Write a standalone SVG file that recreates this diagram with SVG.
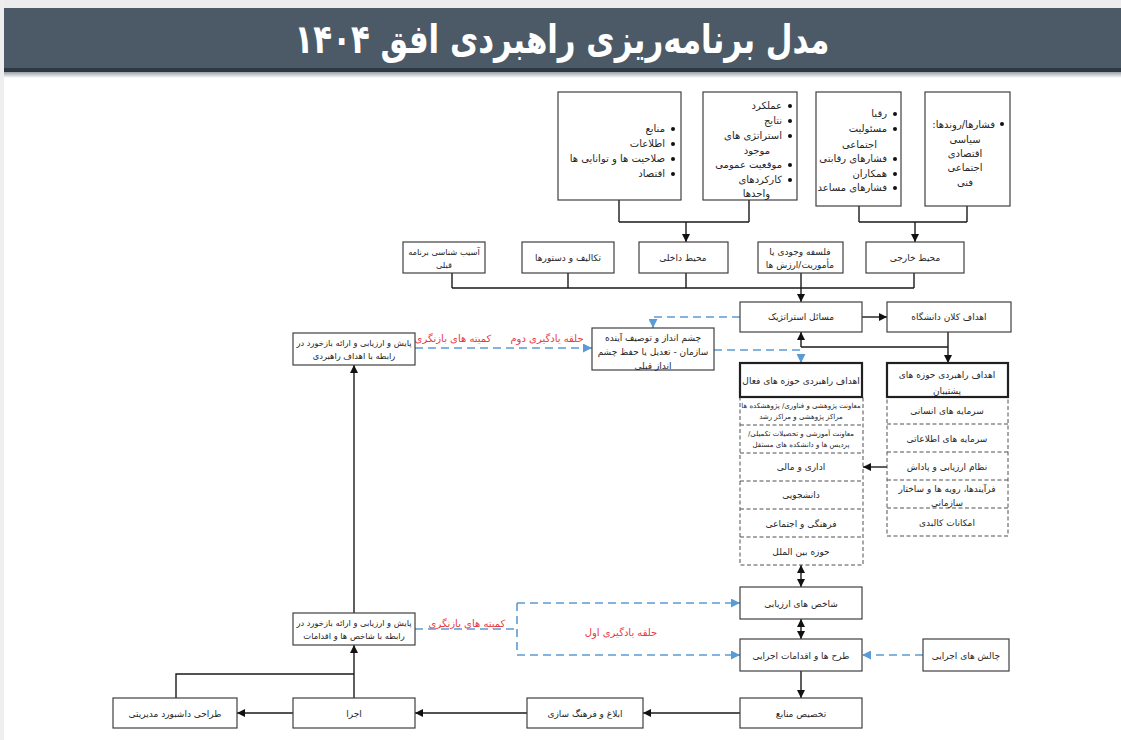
<svg xmlns="http://www.w3.org/2000/svg" width="1121" height="740" viewBox="0 0 1121 740">
  <defs>
    <style>
      .box { fill: #ffffff; stroke: #404040; stroke-width: 1.2; }
      .thick { fill: #ffffff; stroke: #202020; stroke-width: 2.2; }
      .dash { fill: none; stroke: #505050; stroke-width: 1; stroke-dasharray: 4 2.5; }
      .ln { fill: none; stroke: #1a1a1a; stroke-width: 1.4; }
      .blue { fill: none; stroke: #5b9bd5; stroke-width: 1.6; stroke-dasharray: 8 5; }
      text { font-family: "DejaVu Sans", "Noto Sans", sans-serif; font-size: 9px; fill: #262626; direction: rtl; }
      .c { text-anchor: middle; }
      .r { text-anchor: start; }
      .lst { font-size: 10px; }
      .sm { font-size: 7px; }
      .xs { font-size: 8.3px; }
      .red { fill: #e8383d; font-size: 10px; }
      .title { font-size: 40px; font-weight: bold; fill: #ffffff; }
    </style>
    <marker id="ah" viewBox="0 0 10 10" refX="10" refY="5" markerWidth="8" markerHeight="8" markerUnits="userSpaceOnUse" orient="auto-start-reverse">
      <path d="M0,0 L10,5 L0,10 z" fill="#111111"/>
    </marker>
    <marker id="ahb" viewBox="0 0 10 10" refX="10" refY="5" markerWidth="9" markerHeight="9" markerUnits="userSpaceOnUse" orient="auto">
      <path d="M0,0 L10,5 L0,10 z" fill="#5b9bd5"/>
    </marker>
    <linearGradient id="shade" x1="0" y1="0" x2="0" y2="1">
      <stop offset="0" stop-color="#9aa0a6"/>
      <stop offset="1" stop-color="#ffffff"/>
    </linearGradient>
  </defs>

  <!-- page -->
  <rect x="0" y="0" width="1121" height="740" fill="#ffffff"/>
  <rect x="0" y="0" width="1121" height="8" fill="#ececec"/>
  <rect x="0" y="0" width="4" height="740" fill="#eeeeee"/>

  <!-- header bar -->
  <g id="header">
    <rect x="4" y="8" width="1117" height="61" fill="#4c5a68"/>
    <rect x="4" y="68" width="1117" height="4" fill="#2e3842"/>
    <rect x="4" y="72" width="1117" height="6" fill="url(#shade)"/>
    <text class="title c" x="562" y="53" textLength="535" lengthAdjust="spacingAndGlyphs">مدل برنامه‌ریزی راهبردی افق ۱۴۰۴</text>
  </g>

  <!-- connectors -->
  <g id="connectors">
    <!-- internal environment inputs -->
    <path class="ln" d="M619,200 V222 M749,200 V222 M619,222 H749"/>
    <path class="ln" d="M686,222 V242" marker-end="url(#ah)"/>
    <!-- external environment inputs -->
    <path class="ln" d="M859,206 V222 M967,206 V222 M859,222 H967"/>
    <path class="ln" d="M915,222 V242" marker-end="url(#ah)"/>
    <!-- middle row into strategic issues -->
    <path class="ln" d="M452,273 V288 M568,273 V288 M686,273 V288 M914,273 V288 M452,288 H914"/>
    <path class="ln" d="M801,273 V302" marker-end="url(#ah)"/>
    <!-- strategic issues to university goals -->
    <path class="ln" d="M862,317 H887" marker-end="url(#ah)"/>
    <path class="ln" d="M948,332 V363" marker-end="url(#ah)"/>
    <path class="ln" d="M948,347 H801"/>
    <path class="ln" d="M801,347 V332" marker-end="url(#ah)"/>
    <!-- vision loop -->
    <path class="blue" d="M740,317 H653 V328" marker-end="url(#ahb)"/>
    <path class="blue" d="M714,350 H801 V363" marker-end="url(#ahb)"/>
    <path class="blue" d="M415,348 H592" marker-end="url(#ahb)"/>
    <!-- support to active -->
    <path class="ln" d="M887,467 H863" marker-end="url(#ah)"/>
    <!-- vertical chain -->
    <path class="ln" d="M801,565 V587" marker-start="url(#ah)" marker-end="url(#ah)"/>
    <path class="ln" d="M801,619 V639" marker-start="url(#ah)" marker-end="url(#ah)"/>
    <path class="ln" d="M801,671 V698" marker-end="url(#ah)"/>
    <path class="blue" d="M923,655 H862" marker-end="url(#ahb)"/>
    <!-- first learning loop -->
    <path class="blue" d="M415,629 H517 M517,603 V655"/>
    <path class="blue" d="M517,603 H740" marker-end="url(#ahb)"/>
    <path class="blue" d="M517,655 H740" marker-end="url(#ahb)"/>
    <!-- bottom row -->
    <path class="ln" d="M740,713 H643" marker-end="url(#ah)"/>
    <path class="ln" d="M527,713 H415" marker-end="url(#ah)"/>
    <path class="ln" d="M293,713 H237" marker-end="url(#ah)"/>
    <path class="ln" d="M176,698 V674 H354"/>
    <path class="ln" d="M354,698 V645" marker-end="url(#ah)"/>
    <path class="ln" d="M354,613 V365" marker-end="url(#ah)"/>
    <!-- loop labels -->
    <text class="red c" x="453" y="342">کمیته های بازنگری</text>
    <text class="red c" x="547" y="342">حلقه یادگیری دوم</text>
    <text class="red c" x="467" y="627">کمیته های بازنگری</text>
    <text class="red c" x="621" y="636">حلقه یادگیری اول</text>
  </g>

  <!-- top input boxes -->
  <g id="resources">
    <rect class="box" x="558" y="92" width="123" height="108"/>
    <g fill="#111"><circle cx="673" cy="129" r="2"/><circle cx="673" cy="144" r="2"/><circle cx="673" cy="159" r="2"/><circle cx="673" cy="174" r="2"/></g>
    <text class="r lst" x="665" y="132">منابع</text>
    <text class="r lst" x="665" y="147">اطلاعات</text>
    <text class="r lst" x="665" y="162">صلاحیت ها و توانایی ها</text>
    <text class="r lst" x="665" y="177">اقتصاد</text>
  </g>
  <g id="performance">
    <rect class="box" x="703" y="92" width="94" height="108"/>
    <g fill="#111"><circle cx="790" cy="106" r="2"/><circle cx="790" cy="121" r="2"/><circle cx="790" cy="136" r="2"/><circle cx="790" cy="165" r="2"/><circle cx="790" cy="180" r="2"/></g>
    <text class="r lst" x="782" y="109">عملکرد</text>
    <text class="r lst" x="782" y="124">نتایج</text>
    <text class="r lst" x="782" y="139">استراتژی های</text>
    <text class="r lst" x="770" y="154">موجود</text>
    <text class="r lst" x="782" y="168">موقعیت عمومی</text>
    <text class="r lst" x="782" y="183">کارکردهای</text>
    <text class="r lst" x="770" y="197">واحدها</text>
  </g>
  <g id="competitors">
    <rect class="box" x="816" y="92" width="85" height="114"/>
    <g fill="#111"><circle cx="895" cy="114" r="2"/><circle cx="895" cy="129" r="2"/><circle cx="895" cy="159" r="2"/><circle cx="895" cy="174" r="2"/><circle cx="895" cy="188" r="2"/></g>
    <text class="r lst" x="887" y="117">رقبا</text>
    <text class="r lst" x="887" y="132">مسئولیت</text>
    <text class="r lst" x="877" y="148">اجتماعی</text>
    <text class="r lst" x="887" y="162">فشارهای رقابتی</text>
    <text class="r lst" x="887" y="177">همکاران</text>
    <text class="r lst" x="887" y="191">فشارهای مساعد</text>
  </g>
  <g id="trends">
    <rect class="box" x="925" y="92" width="85" height="114"/>
    <circle cx="1002" cy="124" r="2" fill="#111"/>
    <text class="r lst" x="995" y="128">فشارها/روندها:</text>
    <text class="c lst" x="965" y="143">سیاسی</text>
    <text class="c lst" x="965" y="157">اقتصادی</text>
    <text class="c lst" x="965" y="171">اجتماعی</text>
    <text class="c lst" x="965" y="186">فنی</text>
  </g>

  <!-- middle row -->
  <g id="pathology">
    <rect class="box" x="403" y="242" width="82" height="31"/>
    <text class="c xs" x="444" y="255">آسیب شناسی برنامه</text>
    <text class="c xs" x="444" y="268">قبلی</text>
  </g>
  <g id="mandates">
    <rect class="box" x="522" y="242" width="92" height="31"/>
    <text class="c" x="568" y="261">تکالیف و دستورها</text>
  </g>
  <g id="internal-env">
    <rect class="box" x="639" y="242" width="89" height="31"/>
    <text class="c" x="683" y="261">محیط داخلی</text>
  </g>
  <g id="mission">
    <rect class="box" x="758" y="242" width="85" height="31"/>
    <text class="c" x="800" y="255">فلسفه وجودی یا</text>
    <text class="c" x="800" y="268">مأموریت/ارزش ها</text>
  </g>
  <g id="external-env">
    <rect class="box" x="866" y="242" width="98" height="31"/>
    <text class="c" x="915" y="261">محیط خارجی</text>
  </g>

  <!-- strategy level -->
  <g id="strategic-issues">
    <rect class="box" x="740" y="302" width="122" height="30"/>
    <text class="c" x="801" y="320">مسائل استراتژیک</text>
  </g>
  <g id="university-goals">
    <rect class="box" x="887" y="302" width="124" height="30"/>
    <text class="c" x="949" y="320">اهداف کلان دانشگاه</text>
  </g>
  <g id="vision">
    <rect class="box" x="592" y="328" width="122" height="42"/>
    <text class="c" x="653" y="341">چشم انداز و توصیف آینده</text>
    <text class="c" x="653" y="355">سازمان - تعدیل یا حفظ چشم</text>
    <text class="c" x="653" y="369">انداز قبلی</text>
  </g>
  <g id="monitor-goals">
    <rect class="box" x="293" y="333" width="122" height="32"/>
    <text class="c xs" x="354" y="346">پایش و ارزیابی و ارائه بازخورد در</text>
    <text class="c xs" x="354" y="359">رابطه با اهداف راهبردی</text>
  </g>

  <!-- active areas column -->
  <g id="active-areas">
    <rect class="dash" x="740" y="397" width="123" height="168"/>
    <path class="dash" d="M740,425 H863 M740,453 H863 M740,481 H863 M740,509 H863 M740,537 H863"/>
    <rect class="thick" x="740" y="363" width="122" height="34"/>
    <text class="c" x="801" y="384">اهداف راهبردی حوزه های فعال</text>
    <text class="c sm" x="801" y="408">معاونت پژوهشی و فناوری/ پژوهشکده ها</text>
    <text class="c sm" x="801" y="419">مراکز پژوهشی و مراکز رشد</text>
    <text class="c sm" x="801" y="436">معاونت آموزشی و تحصیلات تکمیلی/</text>
    <text class="c sm" x="801" y="447">پردیس ها و دانشکده های مستقل</text>
    <text class="c" x="801" y="470">اداری و مالی</text>
    <text class="c" x="801" y="498">دانشجویی</text>
    <text class="c" x="801" y="527">فرهنگی و اجتماعی</text>
    <text class="c" x="801" y="555">حوزه بین الملل</text>
  </g>

  <!-- support areas column -->
  <g id="support-areas">
    <rect class="dash" x="887" y="397" width="121" height="139"/>
    <path class="dash" d="M887,424 H1008 M887,452 H1008 M887,480 H1008 M887,508 H1008"/>
    <rect class="thick" x="887" y="363" width="121" height="34"/>
    <text class="c" x="947" y="378">اهداف راهبردی حوزه های</text>
    <text class="c" x="947" y="394">پشتیبان</text>
    <text class="c" x="947" y="414">سرمایه های انسانی</text>
    <text class="c" x="947" y="442">سرمایه های اطلاعاتی</text>
    <text class="c" x="947" y="470">نظام ارزیابی و پاداش</text>
    <text class="c" x="947" y="492">فرآیندها، رویه ها و ساختار</text>
    <text class="c" x="947" y="506">سازمانی</text>
    <text class="c" x="947" y="526">امکانات کالبدی</text>
  </g>

  <!-- execution chain -->
  <g id="indicators">
    <rect class="box" x="740" y="587" width="122" height="32"/>
    <text class="c" x="801" y="607">شاخص های ارزیابی</text>
  </g>
  <g id="plans">
    <rect class="box" x="740" y="639" width="122" height="32"/>
    <text class="c" x="801" y="659">طرح ها و اقدامات اجرایی</text>
  </g>
  <g id="challenges">
    <rect class="box" x="923" y="639" width="86" height="32"/>
    <text class="c" x="966" y="659">چالش های اجرایی</text>
  </g>
  <g id="monitor-actions">
    <rect class="box" x="293" y="613" width="122" height="32"/>
    <text class="c xs" x="354" y="626">پایش و ارزیابی و ارائه بازخورد در</text>
    <text class="c xs" x="354" y="639">رابطه با شاخص ها و اقدامات</text>
  </g>
  <g id="allocation">
    <rect class="box" x="740" y="698" width="122" height="30"/>
    <text class="c" x="801" y="717">تخصیص منابع</text>
  </g>
  <g id="communication">
    <rect class="box" x="527" y="698" width="116" height="30"/>
    <text class="c" x="585" y="717">ابلاغ و فرهنگ سازی</text>
  </g>
  <g id="execution">
    <rect class="box" x="293" y="698" width="122" height="30"/>
    <text class="c" x="354" y="717">اجرا</text>
  </g>
  <g id="dashboard">
    <rect class="box" x="113" y="698" width="124" height="30"/>
    <text class="c" x="175" y="717">طراحی داشبورد مدیریتی</text>
  </g>
</svg>
